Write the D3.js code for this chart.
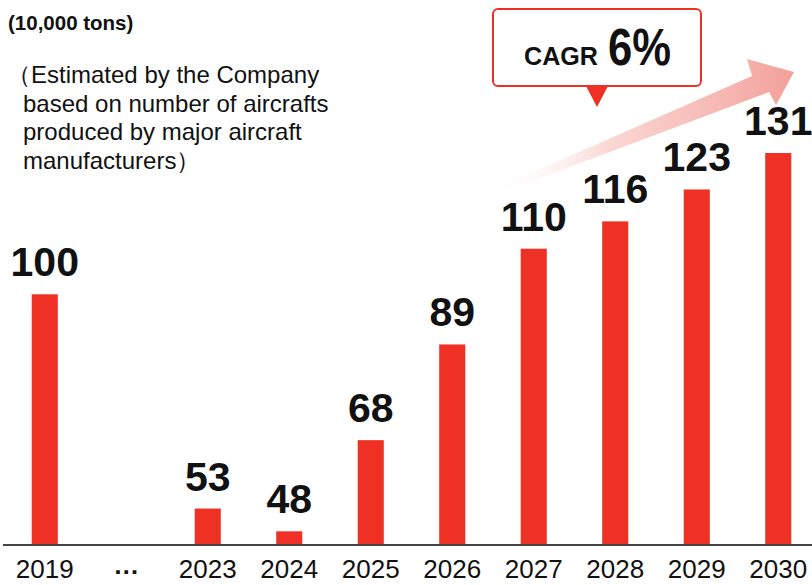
<!DOCTYPE html>
<html>
<head>
<meta charset="utf-8">
<script src="https://cdn.jsdelivr.net/npm/d3@7"></script>
<style>
  body { margin: 0; background: #fff; }
  svg { display: block; font-family: "Liberation Sans", Arial, sans-serif; }
</style>
</head>
<body>
<div id="chart"></div>
<script>
// Data
var years = ["2019", "…", "2023", "2024", "2025", "2026", "2027", "2028", "2029", "2030"];
var values = [100, null, 53, 48, 68, 89, 110, 116, 123, 131];
var unitLabel = "(10,000 tons)";
var noteLines = ["\uFF08Estimated by the Company", "based on number of aircrafts", "produced by major aircraft", "manufacturers\uFF09"];
var cagrLabel = "CAGR";
var cagrValue = "6%";

var width = 812;
var height = 585;
var baseY = 545;
var barColor = "#ee3124";

var svg = d3.select("#chart")
    .append("svg")
    .attr("width", width)
    .attr("height", height);

// Scales
var xScale = d3.scaleBand()
    .domain(years)
    .range([4, 819])
    .paddingInner(0.68)
    .paddingOuter(0.34);

var yScale = d3.scaleLinear()
    .domain([45, 131])
    .range([baseY, 153]);

// Growth arrow with gradient
var defs = svg.append("defs");
var grad = defs.append("linearGradient")
    .attr("id", "arrowGrad")
    .attr("x1", "0%").attr("y1", "0%")
    .attr("x2", "100%").attr("y2", "0%");
grad.append("stop").attr("offset", "0%").attr("stop-color", "#fff").attr("stop-opacity", 0);
grad.append("stop").attr("offset", "40%").attr("stop-color", "#f9cfcb").attr("stop-opacity", 0.85);
grad.append("stop").attr("offset", "100%").attr("stop-color", "#f3a09a").attr("stop-opacity", 1);

svg.append("path")
    .attr("d", "M488,192 L752,76 L747,59 L794,72 L776,105 L769,92 L490,197 Z")
    .attr("fill", "url(#arrowGrad)");

var barData = values.map((v, i) => ({ year: years[i], value: v })).filter(d => d.value != null);

// Bars
svg.selectAll("rect.bar")
    .data(barData)
    .enter()
    .append("rect")
    .attr("class", "bar")
    .attr("x", d => xScale(d.year))
    .attr("y", d => yScale(d.value))
    .attr("width", xScale.bandwidth())
    .attr("height", d => baseY - yScale(d.value))
    .attr("fill", barColor);

// Value labels
svg.selectAll("text.value")
    .data(barData)
    .enter()
    .append("text")
    .attr("class", "value")
    .attr("x", d => xScale(d.year) + xScale.bandwidth() / 2)
    .attr("y", d => yScale(d.value) - 18)
    .attr("text-anchor", "middle")
    .attr("font-size", 41)
    .attr("font-weight", "bold")
    .attr("fill", "#111")
    .text(d => d.value);

// X axis
var xAxis = d3.axisBottom(xScale).tickSize(0).tickPadding(0);
var gx = svg.append("g")
    .attr("transform", "translate(0," + baseY + ")")
    .call(xAxis);
gx.select(".domain").remove();
gx.selectAll("text")
    .attr("y", d => d === "…" ? 29 : 33)
    .attr("dy", 0)
    .attr("font-size", 26)
    .attr("font-family", "'Liberation Sans', Arial, sans-serif")
    .attr("fill", "#111")
    .attr("font-weight", d => d === "…" ? "bold" : "normal");

svg.append("line")
    .attr("x1", 3).attr("x2", width)
    .attr("y1", baseY).attr("y2", baseY)
    .attr("stroke", "#444")
    .attr("stroke-width", 2);

// Unit
svg.append("text")
    .attr("x", 8)
    .attr("y", 30)
    .attr("font-size", 20.5)
    .attr("font-weight", "bold")
    .attr("fill", "#111")
    .text(unitLabel);

// Note
svg.append("g").selectAll("text")
    .data(noteLines)
    .enter()
    .append("text")
    .attr("x", (d, i) => i === 0 ? 7 : 23)
    .attr("y", (d, i) => 83 + i * 28.5)
    .attr("font-size", 24)
    .attr("fill", "#111")
    .text(d => d);

// CAGR callout
svg.append("path")
    .attr("d", "M586,86 L597,107 L608,86 Z")
    .attr("fill", barColor);
svg.append("rect")
    .attr("x", 493).attr("y", 9)
    .attr("width", 208).attr("height", 77)
    .attr("rx", 5)
    .attr("fill", "#fff")
    .attr("stroke", barColor)
    .attr("stroke-width", 2);

svg.append("text")
    .attr("x", 524)
    .attr("y", 65)
    .attr("fill", "#111")
    .attr("font-weight", "bold")
    .attr("font-size", 25)
    .attr("textLength", 74)
    .attr("lengthAdjust", "spacingAndGlyphs")
    .text(cagrLabel);

svg.append("text")
    .attr("x", 608)
    .attr("y", 65)
    .attr("fill", "#111")
    .attr("font-weight", "bold")
    .attr("font-size", 51)
    .attr("textLength", 63)
    .attr("lengthAdjust", "spacingAndGlyphs")
    .text(cagrValue);
</script>
</body>
</html>
